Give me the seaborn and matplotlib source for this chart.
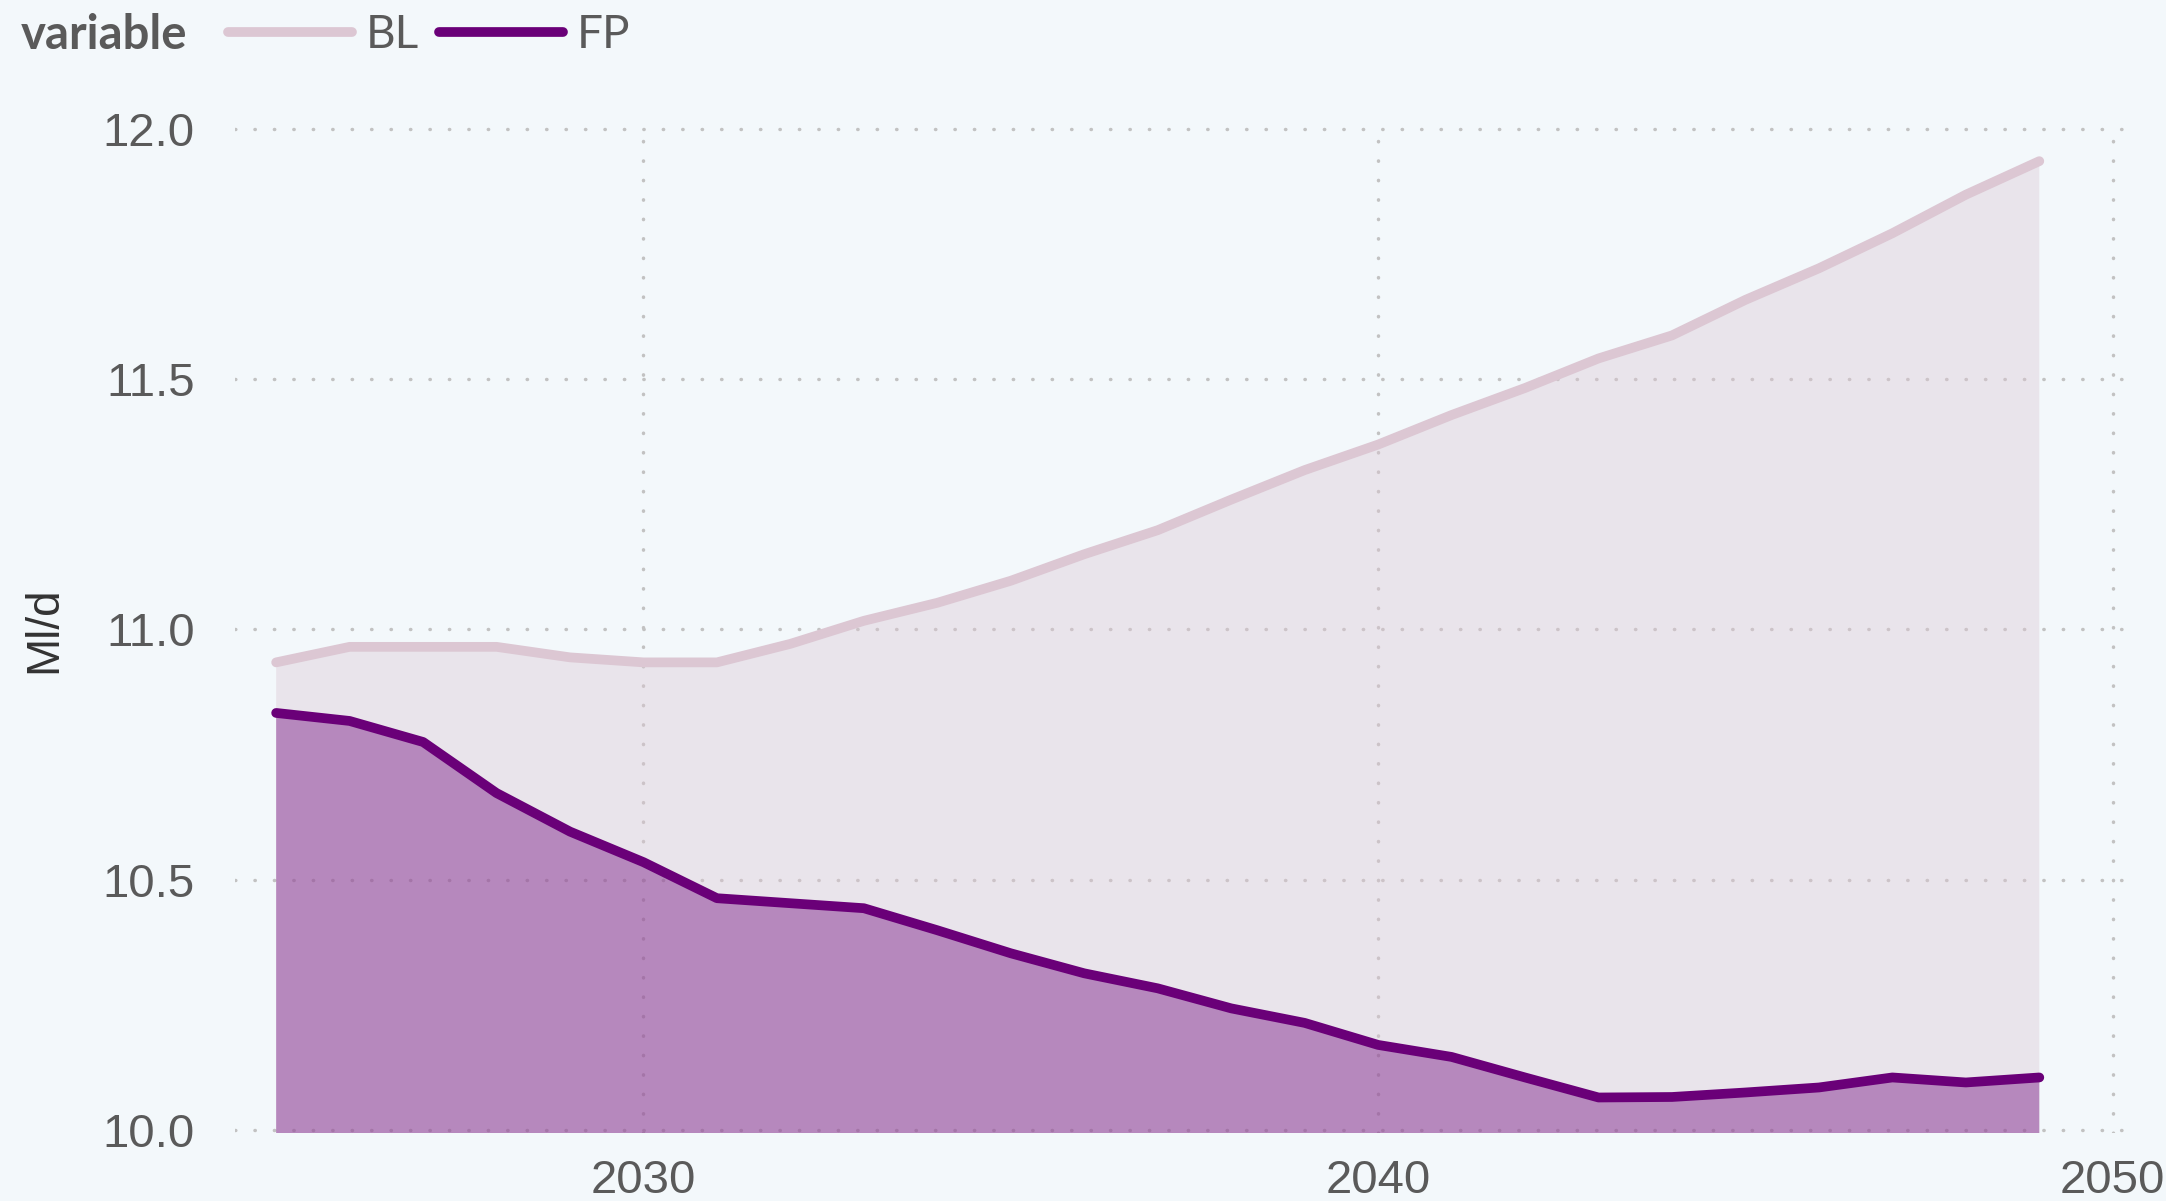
import pandas as pd
import seaborn as sns
import matplotlib.pyplot as plt
from matplotlib.lines import Line2D

# Datos
years = list(range(2025, 2050))
bl = [10.934, 10.965, 10.965, 10.965, 10.944, 10.934, 10.934, 10.971, 11.017, 11.053,
      11.097, 11.150, 11.198, 11.259, 11.318, 11.369, 11.428, 11.482, 11.541, 11.587,
      11.658, 11.721, 11.791, 11.868, 11.935]
fp = [10.833, 10.817, 10.775, 10.673, 10.596, 10.535, 10.463, 10.453, 10.443, 10.399,
      10.353, 10.313, 10.283, 10.243, 10.214, 10.170, 10.146, 10.105, 10.065, 10.066,
      10.075, 10.085, 10.105, 10.095, 10.105]
series = ["BL", "FP"]
y_ticks = [10.0, 10.5, 11.0, 11.5, 12.0]
x_ticks = [2030, 2040, 2050]

colores = {"BL": "#DCC7D3", "FP": "#6A0078"}
fondo = "#F3F8FB"
gris = "#5A5A5A"

df = pd.DataFrame({"year": years, "BL": bl, "FP": fp})
df_long = df.melt(id_vars="year", value_vars=series, var_name="variable", value_name="value")

sns.set_theme(style="white")
plt.rcParams["font.family"] = ["Liberation Sans", "DejaVu Sans"]

fig, ax = plt.subplots(figsize=(21.66, 12.01), dpi=100)
fig.patch.set_facecolor(fondo)
ax.set_facecolor(fondo)
fig.subplots_adjust(left=0.1085, right=0.9856, top=0.895, bottom=0.057)

# Areas rellenas hasta cero (se recortan en el limite del eje)
for s in series:
    ax.fill_between(df["year"], 0, df[s], color=colores[s], alpha=0.4, linewidth=0, zorder=1)

sns.lineplot(
    data=df_long,
    x="year",
    y="value",
    hue="variable",
    palette=colores,
    linewidth=7,
    solid_capstyle="round",
    solid_joinstyle="round",
    legend=False,
    ax=ax,
    zorder=3,
)

# Rejilla punteada
ax.set_axisbelow(True)
ax.grid(True, color="#C2C2C2", linewidth=2.5, linestyle=(0, (0.1, 5.5)), dash_capstyle="round")
for sp in ax.spines.values():
    sp.set_visible(False)

ax.set_xlim(2024.44, 2050.30)
ax.set_ylim(9.995, 12.005)
ax.set_xticks(x_ticks)
ax.set_yticks(y_ticks)
ax.set_yticklabels([f"{v:.1f}" for v in y_ticks])
ax.tick_params(length=0, labelsize=34, labelcolor=gris)
ax.tick_params(axis="x", pad=19)
ax.tick_params(axis="y", pad=29)

ax.set_xlabel("")
ax.set_ylabel("Ml/d", fontsize=33, color="#333333")
ax.yaxis.set_label_coords(-0.089, 0.5)

# Leyenda horizontal con titulo al lado
fig.text(21 / 2166, 1 - 35 / 1201, "variable", fontsize=34, fontweight="bold", color=gris,
         va="center", ha="left", family=["Lato", "DejaVu Sans"])
handles = [Line2D([0], [0], color=colores[s], lw=7, solid_capstyle="round") for s in series]
fig.legend(
    handles, series,
    loc="center left",
    bbox_to_anchor=(228 / 2166, 1 - 35 / 1201),
    ncol=2,
    frameon=False,
    handlelength=2.7,
    handletextpad=0.3,
    columnspacing=0.45,
    borderpad=0,
    borderaxespad=0,
    prop={"family": ["Lato", "DejaVu Sans"], "size": 33},
    labelcolor=gris,
)

fig.savefig("out.png", dpi=100, facecolor=fondo)
